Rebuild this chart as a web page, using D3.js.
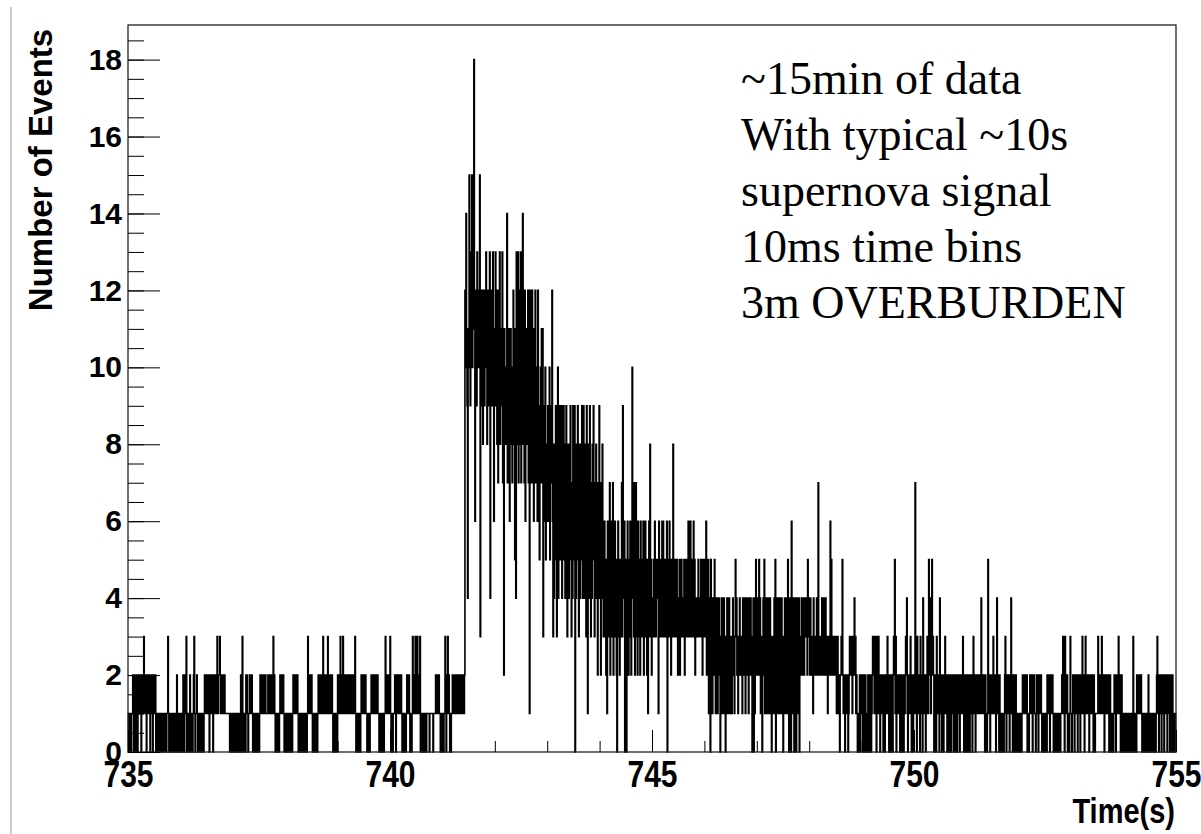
<!DOCTYPE html>
<html>
<head>
<meta charset="utf-8">
<script src="https://cdn.jsdelivr.net/npm/d3@7"></script>
<style>
  body { margin: 0; background: #fff; }
  svg { display: block; }
</style>
</head>
<body>
<svg id="chart" width="1201" height="834"></svg>
<script>
// Axis ranges and tick values
const timeRange = [735, 755];
const countRange = [0, 18.9];
const xMajorTicks = [735, 740, 745, 750, 755];
const xMinorTicks = d3.range(735, 756, 1);
const yMajorTicks = [0, 2, 4, 6, 8, 10, 12, 14, 16, 18];
const yMinorTicks = d3.range(0, 18.51, 0.5);
const binWidth = 0.01; // 10 ms bins

const annotationLines = [
  "~15min of data",
  "With typical ~10s",
  "supernova signal",
  "10ms time bins",
  "3m OVERBURDEN"
];

// Event counts, one string per second (735 s ... 754 s), one character per 10 ms bin.
// Counts are written in base 36: 0-9, then a = 10, b = 11, ... i = 18.
const countsPerSecond = [
  /* 735 */ "1011010112" + "1021102101" + "2212101221" + "3122101212" + "2102212012" + "2120101101" + "0110110101" + "1010113101" + "1011011010" + "1012101101",
  /* 736 */ "0110121012" + "1301101021" + "0110123101" + "1210110101" + "1011012121" + "2212102121" + "2101222121" + "3212232121" + "2121211111" + "1111010110",
  /* 737 */ "1010110101" + "0110121031" + "1011021210" + "1121212101" + "1010110101" + "0121212121" + "2121111212" + "1212121312" + "1011010101" + "2121212101",
  /* 738 */ "0101101101" + "1010121212" + "1212101101" + "0110110101" + "1013212121" + "2101101101" + "1012121212" + "1232121212" + "1312121212" + "1010110110",
  /* 739 */ "2121232121" + "3121212121" + "2121211212" + "1213101101" + "0110121212" + "1212110101" + "1011212121" + "2121212110" + "1011010101" + "1312121212",
  /* 740 */ "3101101112" + "1012121212" + "1210101101" + "0121212101" + "1013121231" + "2131211301" + "1011010110" + "1111101111" + "1101111212" + "1212110110",
  /* 741 */ "1101131012" + "3121010112" + "1212212121" + "2212122121" + "212caeb94b" + "afc9dbfacb" + "ib6ca9dbca" + "bf3a9cb8ac" + "9cadb8cab9" + "d4bac9db6a",
  /* 742 */ "9dab8c7a9d" + "8b9ad7a2b9" + "8a9e7a8b69" + "b8a79c8a5b" + "4d8ad79c8d" + "7b9e8a7c69" + "8b9c7a1c8b" + "7c9b6a8c79" + "a6c8957a8b" + "7b3967a586",
  /* 743 */ "7968a5798c" + "6384759638" + "a479586947" + "5968479536" + "8475963749" + "6590847596" + "3846859479" + "4758396184" + "6953748596" + "3758462749",
  /* 744 */ "4627584356" + "3524163547" + "2645372546" + "3520463524" + "5373954602" + "5036425364" + "25a4637257" + "3526354264" + "3546253645" + "2513648352",
  /* 745 */ "3435364354" + "4516354346" + "3645353460" + "5346352543" + "8354353542" + "4352435343" + "3524353436" + "4356343546" + "3524343353" + "3435342534",
  /* 746 */ "4536243514" + "2052413425" + "3142413243" + "0314231423" + "0324132413" + "2312423135" + "3423132423" + "2314242314" + "3424132443" + "2034041352",
  /* 747 */ "3243524132" + "0342513241" + "2413241302" + "1324150314" + "2314231421" + "0324132415" + "2041306241" + "3042403142" + "4032343243" + "2434342543",
  /* 748 */ "3242323142" + "2323432722" + "3232423243" + "2423213232" + "6252323232" + "2312321202" + "2325212101" + "2121012322" + "3212324231" + "2101012021",
  /* 749 */ "1202101210" + "0121021201" + "2323132302" + "3132101212" + "1012021213" + "2101201210" + "2325130121" + "1210120212" + "0212324101" + "2123202101",
  /* 750 */ "2172103212" + "1032120421" + "2101232153" + "2412523202" + "1203212104" + "2120120123" + "1210120212" + "0212101202" + "2101212021" + "2123201210",
  /* 751 */ "1210120212" + "1023212021" + "2121212142" + "1212102010" + "1521202121" + "2312120242" + "1202101010" + "1012320212" + "2101241202" + "1201210010",
  /* 752 */ "1010101212" + "1212120010" + "1212120212" + "1101212021" + "2121010101" + "0110212120" + "2121210101" + "1011011010" + "1121312031" + "2120110131",
  /* 753 */ "1012120212" + "1202121012" + "1321202312" + "1212021212" + "1202101111" + "1311212131" + "2120212121" + "2101210101" + "0121202121" + "3121012101",
  /* 754 */ "1010110101" + "1011010131" + "0101021212" + "1212101101" + "1010101210" + "1101011010" + "1012312021" + "2101212021" + "2120212101" + "2102010101"
];

// Expand the strings into (bin low edge, count) pairs
const bins = [];
countsPerSecond.forEach((str, s) => {
  for (let i = 0; i < str.length; i++) {
    bins.push({ t: timeRange[0] + s + i * binWidth, n: parseInt(str[i], 36) });
  }
});

const svg = d3.select("#chart");
const frame = { left: 128, right: 1176, top: 25, bottom: 752 };

const x = d3.scaleLinear().domain(timeRange).range([frame.left, frame.right]);
const y = d3.scaleLinear().domain(countRange).range([frame.bottom, frame.top]);

// Thin grey border line down the left side of the page
svg.append("line")
  .attr("x1", 11).attr("x2", 11).attr("y1", 7).attr("y2", 834)
  .attr("stroke", "#cccccc").attr("stroke-width", 2);

// Histogram outline (step line across each 10 ms bin)
const stepPoints = bins.map(d => [d.t, d.n]);
stepPoints.push([timeRange[1], bins[bins.length - 1].n]);

const stepLine = d3.line()
  .x(d => x(d[0]))
  .y(d => y(d[1]))
  .curve(d3.curveStepAfter);

svg.append("path")
  .datum(stepPoints)
  .attr("d", stepLine)
  .attr("fill", "none")
  .attr("stroke", "#000")
  .attr("stroke-width", 1.6);

// Frame
svg.append("rect")
  .attr("x", frame.left).attr("y", frame.top)
  .attr("width", frame.right - frame.left)
  .attr("height", frame.bottom - frame.top)
  .attr("fill", "none")
  .attr("stroke", "#222")
  .attr("stroke-width", 1.3);

const labelFont = "'Liberation Sans', Arial, Helvetica, sans-serif";

// Y axis: minor ticks, then major ticks with labels (ticks point into the frame)
svg.append("g")
  .attr("transform", `translate(${frame.left},0)`)
  .call(d3.axisLeft(y).tickValues(yMinorTicks).tickSizeInner(-16).tickSizeOuter(0).tickFormat(""))
  .call(g => g.select(".domain").remove())
  .call(g => g.selectAll("line").attr("stroke", "#000"));

svg.append("g")
  .attr("transform", `translate(${frame.left},0)`)
  .call(d3.axisLeft(y).tickValues(yMajorTicks).tickSizeInner(-32).tickSizeOuter(0).tickPadding(6).tickFormat(d3.format("d")))
  .call(g => g.select(".domain").remove())
  .call(g => g.selectAll("line").attr("stroke", "#000"))
  .call(g => g.selectAll("text")
    .attr("fill", "#000")
    .attr("font-family", labelFont)
    .attr("font-weight", "bold")
    .attr("font-size", 30));

// X axis: minor ticks every second, major ticks every 5 s with labels
svg.append("g")
  .attr("transform", `translate(0,${frame.bottom})`)
  .call(d3.axisBottom(x).tickValues(xMinorTicks).tickSizeInner(-11).tickSizeOuter(0).tickFormat(""))
  .call(g => g.select(".domain").remove())
  .call(g => g.selectAll("line").attr("stroke", "#000"));

svg.append("g")
  .attr("transform", `translate(0,${frame.bottom})`)
  .call(d3.axisBottom(x).tickValues(xMajorTicks).tickSizeInner(-22).tickSizeOuter(0).tickFormat(d3.format("d")))
  .call(g => g.select(".domain").remove())
  .call(g => g.selectAll("line").attr("stroke", "#000"))
  .call(g => g.selectAll("text")
    .attr("fill", "#000")
    .attr("font-family", labelFont)
    .attr("font-weight", "bold")
    .attr("font-size", 30)
    .attr("y", 0)
    .attr("dy", "0.71em")
    .attr("transform", "translate(0,9) scale(1,1.2)"));

// Axis titles
svg.append("text")
  .attr("transform", `translate(${frame.right - 1},${823}) scale(1,1.2)`)
  .attr("text-anchor", "end")
  .attr("font-family", labelFont)
  .attr("font-weight", "bold")
  .attr("font-size", 29)
  .attr("fill", "#000")
  .text("Time(s)");

svg.append("text")
  .attr("transform", "translate(52,170) rotate(-90)")
  .attr("text-anchor", "middle")
  .attr("font-family", labelFont)
  .attr("font-weight", "bold")
  .attr("font-size", 33)
  .attr("fill", "#000")
  .text("Number of Events");

// Annotation block
svg.append("g")
  .selectAll("text")
  .data(annotationLines)
  .join("text")
  .attr("x", 741)
  .attr("y", (d, i) => 94 + i * 56)
  .attr("font-family", "'Liberation Serif', 'Times New Roman', serif")
  .attr("font-size", 46)
  .attr("fill", "#000")
  .text(d => d);
</script>
</body>
</html>
